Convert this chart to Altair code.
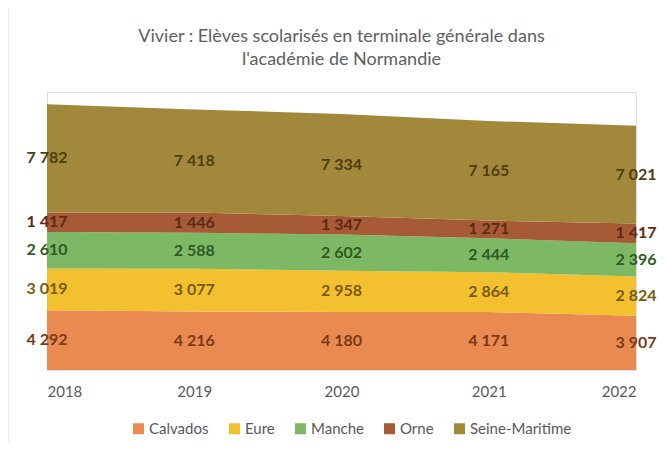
import altair as alt
import pandas as pd

years = [2018, 2019, 2020, 2021, 2022]
series = ["Calvados", "Eure", "Manche", "Orne", "Seine-Maritime"]
calvados = [4292, 4216, 4180, 4171, 3907]
eure = [3019, 3077, 2958, 2864, 2824]
manche = [2610, 2588, 2602, 2444, 2396]
orne = [1417, 1446, 1347, 1271, 1417]
seine_maritime = [7782, 7418, 7334, 7165, 7021]
values = [calvados, eure, manche, orne, seine_maritime]

area_colors = ["#E98A50", "#F3C02F", "#7DB965", "#A65B36", "#A1883A"]
label_colors = ["#7B3A16", "#7A5A0C", "#2F5A22", "#5E2A14", "#4F3F0E"]

rows = []
for i, (name, vals) in enumerate(zip(series, values)):
    for yr, v in zip(years, vals):
        rows.append({"year": yr, "dept": name, "rank": i, "value": v})
df = pd.DataFrame(rows)

FONT = "Lato"
GRAY = "#595959"

base = alt.Chart(df)

x_enc = alt.X(
    "year:Q",
    scale=alt.Scale(domain=[2018, 2022], nice=False, zero=False),
    axis=alt.Axis(values=years, format="d", title=None, labelFontSize=15,
                  labelColor=GRAY, labelFont=FONT, ticks=False, domain=False,
                  grid=False, labelPadding=14),
)

area = base.mark_area(opacity=1).encode(
    x=x_enc,
    y=alt.Y("value:Q", stack="zero", scale=alt.Scale(domain=[0, 20000], nice=False),
            axis=alt.Axis(values=list(range(0, 20001, 2000)), labels=False, ticks=False,
                          domain=False, title=None, gridColor="#e4e4e4", gridWidth=1)),
    color=alt.Color("dept:N", scale=alt.Scale(domain=series, range=area_colors),
                    legend=alt.Legend(orient="none", legendX=84, legendY=329,
                                      direction="horizontal", title=None,
                                      symbolType="square", symbolSize=121,
                                      symbolStrokeWidth=0, labelFontSize=15,
                                      labelFont=FONT, labelColor=GRAY,
                                      labelOffset=3, columnPadding=18)),
    order=alt.Order("rank:Q"),
)

labels = base.transform_stack(
    stack="value", groupby=["year"], sort=[alt.SortField("rank", "ascending")],
    as_=["y0", "y1"]
).transform_calculate(
    mid="(datum.y0 + datum.y1) / 2",
    txt="replace(format(datum.value, ','), ',', ' ')",
).mark_text(fontSize=16, fontWeight="bold", font=FONT).encode(
    x=alt.X("year:Q"),
    y=alt.Y("mid:Q", axis=None),
    text="txt:N",
    color=alt.Color("dept:N", scale=alt.Scale(domain=series, range=label_colors), legend=None),
)

border = alt.Chart(pd.DataFrame({"a": [0]})).mark_rect(
    fill=None, stroke="#d9d9d9", strokeWidth=1
).encode(x=alt.value(-39), x2=alt.value(613), y=alt.value(-85), y2=alt.value(370))

chart = alt.layer(border, area, labels).resolve_scale(color="independent").properties(
    width=589,
    height=278,
    padding={"left": 39, "top": 84, "right": 22, "bottom": 72},
    autosize=alt.AutoSizeParams(type="none"),
    title=alt.TitleParams(
        ["Vivier : Elèves scolarisés en terminale générale dans", "l'académie de Normandie"],
        fontSize=18, font=FONT, fontWeight="normal", color="#606060",
        anchor="middle", frame="group", offset=-62, lineHeight=23,
    ),
).configure_view(stroke=None).configure(background="white")

chart.save("out.html", embed_options={"renderer": "svg", "actions": False})
